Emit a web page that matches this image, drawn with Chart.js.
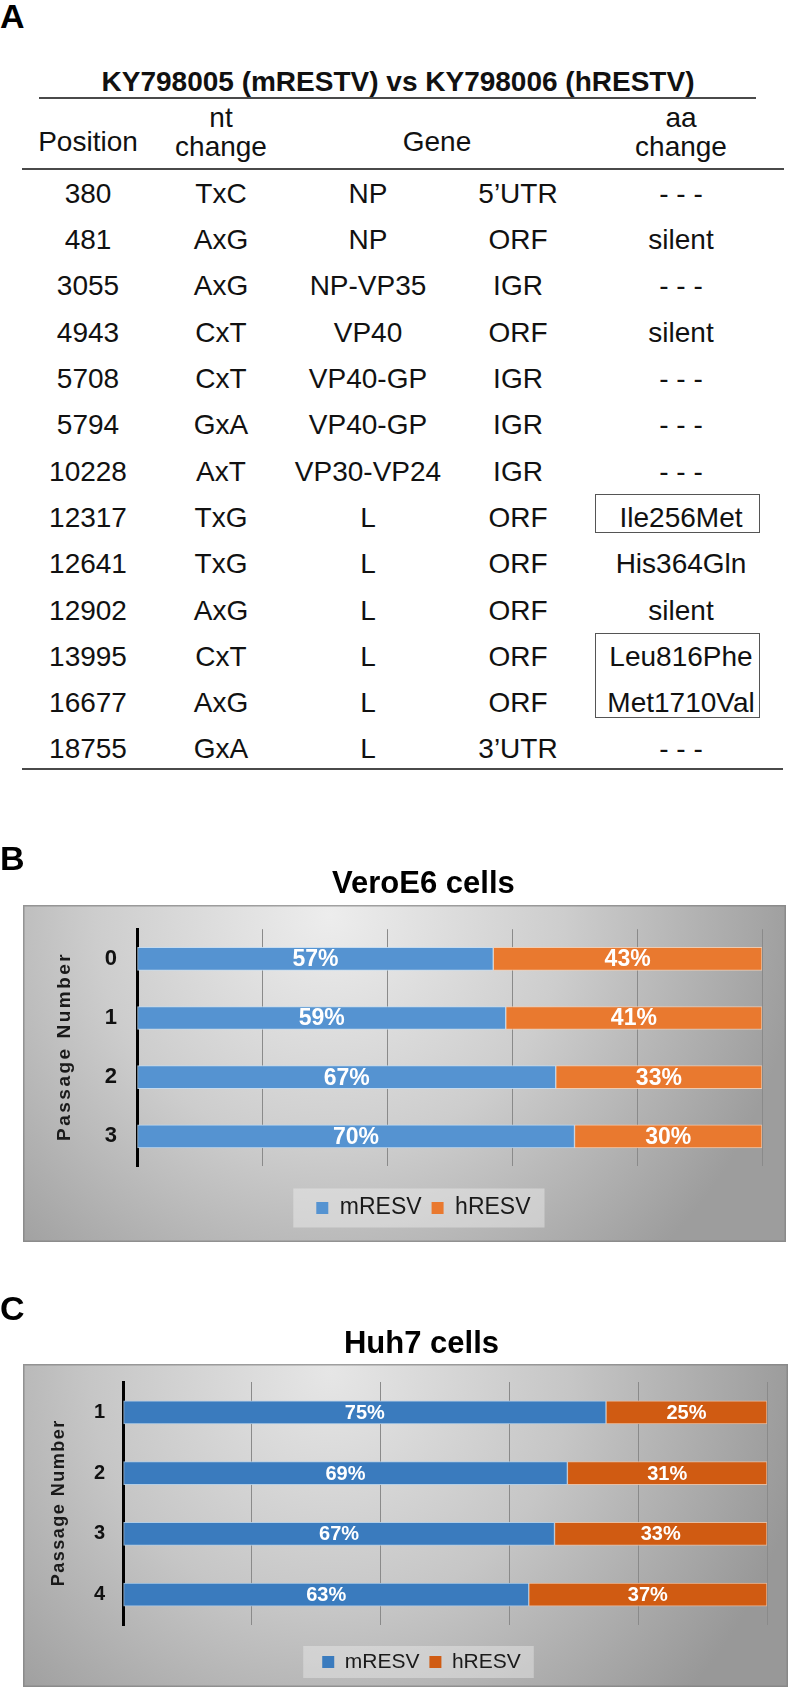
<!DOCTYPE html>
<html><head><meta charset="utf-8">
<script src="https://cdn.jsdelivr.net/npm/chart.js@4.4.1/dist/chart.umd.min.js"></script>
<style>
html,body{margin:0;padding:0;background:#fff;}
body{width:792px;height:1689px;position:relative;overflow:hidden;font-family:'Liberation Sans',Arial,Helvetica,sans-serif;color:#111;}
.t{position:absolute;white-space:nowrap;font-size:28px;line-height:29px;text-align:center;transform:translateX(-50%);}
.hl{position:absolute;height:2px;background:#4a4a4a;}
.panelLetter{position:absolute;font-weight:bold;font-size:34px;line-height:34px;left:0;z-index:5;color:#000;}
.box{position:absolute;border:1px solid #555;box-sizing:border-box;}
canvas{position:absolute;left:0;}
</style></head>
<body>
<div class="panelLetter" style="top:-1px">A</div>
<div class="panelLetter" style="top:841px">B</div>
<div class="panelLetter" style="top:1291px">C</div>
<div id="table"></div>
<canvas id="cB" width="792" height="386" style="top:860px"></canvas>
<canvas id="cC" width="792" height="367" style="top:1322px"></canvas>
<script>
// ---------- Table data (panel A) ----------
const tableTitle = 'KY798005 (mRESTV) vs KY798006 (hRESTV)';
const positions = ['380','481','3055','4943','5708','5794','10228','12317','12641','12902','13995','16677','18755'];
const ntChanges = ['TxC','AxG','AxG','CxT','CxT','GxA','AxT','TxG','TxG','AxG','CxT','AxG','GxA'];
const genes = ['NP','NP','NP-VP35','VP40','VP40-GP','VP40-GP','VP30-VP24','L','L','L','L','L','L'];
const regions = ['5\u2019UTR','ORF','IGR','ORF','IGR','IGR','IGR','ORF','ORF','ORF','ORF','ORF','3\u2019UTR'];
const aaChanges = ['- - -','silent','- - -','silent','- - -','- - -','- - -','Ile256Met','His364Gln','silent','Leu816Phe','Met1710Val','- - -'];

// ---------- Chart data (panels B, C) ----------
const passagesB = ['0','1','2','3'];
const mRESV_B = [57, 59, 67, 70];
const hRESV_B = [43, 41, 33, 30];
const passagesC = ['1','2','3','4'];
const mRESV_C = [75, 69, 67, 63];
const hRESV_C = [25, 31, 33, 37];
const seriesNames = ['mRESV', 'hRESV'];

// ---------- Build table ----------
const tbl = document.getElementById('table');
function addText(txt, cx, baseline, opts) {
  const d = document.createElement('div');
  d.className = 't';
  d.style.left = cx + 'px';
  d.style.top = (baseline - 24.2) + 'px';
  if (opts && opts.bold) d.style.fontWeight = 'bold';
  d.innerHTML = txt;
  tbl.appendChild(d);
}
function addLine(x1, x2, y) {
  const d = document.createElement('div');
  d.className = 'hl';
  d.style.left = x1 + 'px'; d.style.width = (x2 - x1) + 'px'; d.style.top = (y - 1) + 'px';
  tbl.appendChild(d);
}
function addBox(x, y, w, h) {
  const d = document.createElement('div');
  d.className = 'box';
  d.style.left = x + 'px'; d.style.top = y + 'px'; d.style.width = w + 'px'; d.style.height = h + 'px';
  tbl.appendChild(d);
}
addText(tableTitle, 398, 91, {bold: true});
addLine(39, 756, 98);
addText('Position', 88, 151);
addText('nt<br>change', 221, 127.2);
addText('Gene', 437, 151);
addText('aa<br>change', 681, 127.2);
addLine(22, 784, 169);
const cols = [88, 221, 368, 518, 681];
for (let i = 0; i < positions.length; i++) {
  const b = 203 + 46.3 * i;
  addText(positions[i], cols[0], b);
  addText(ntChanges[i], cols[1], b);
  addText(genes[i], cols[2], b);
  addText(regions[i], cols[3], b);
  addText(aaChanges[i], cols[4], b);
}
addLine(22, 783, 769);
addBox(595, 494, 165, 39);
addBox(595, 633, 165, 85);

// ---------- Chart plugins ----------
const FONT = "'Liberation Sans', Arial, Helvetica, sans-serif";
Chart.defaults.font.family = FONT;

const panelPlugin = {
  id: 'panel',
  beforeDraw(chart, args, o) {
    const ctx = chart.ctx;
    ctx.save();
    const g = ctx.createRadialGradient(o.cx, o.cy, 0, o.cx, o.cy, o.r);
    g.addColorStop(0, o.c0);
    g.addColorStop(0.5, o.cm);
    g.addColorStop(1, o.c1);
    ctx.fillStyle = g;
    ctx.fillRect(o.x, o.y, o.w, o.h);
    ctx.strokeStyle = 'rgba(130,130,130,0.7)';
    ctx.lineWidth = 1.5;
    ctx.strokeRect(o.x + 0.75, o.y + 0.75, o.w - 1.5, o.h - 1.5);
    const lg = chart.legend;
    if (lg && lg.legendHitBoxes && lg.legendHitBoxes.length) {
      const hb = lg.legendHitBoxes;
      const last = hb[hb.length - 1];
      const l = hb[0].left - o.lgPadL;
      const r = last.left + last.width + o.lgPadR;
      const cy = hb[0].top + hb[0].height / 2;
      ctx.fillStyle = o.lgBg;
      ctx.fillRect(l, cy - o.lgH / 2, r - l, o.lgH);
    }
    ctx.restore();
  }
};

const labelPlugin = {
  id: 'barLabels',
  afterDatasetsDraw(chart, args, o) {
    const ctx = chart.ctx;
    ctx.save();
    ctx.font = 'bold ' + o.size + 'px ' + FONT;
    ctx.fillStyle = o.color;
    ctx.textAlign = 'center';
    ctx.textBaseline = 'middle';
    chart.data.datasets.forEach((ds, di) => {
      const meta = chart.getDatasetMeta(di);
      meta.data.forEach((el, i) => {
        const p = el.getProps(['x', 'base', 'y'], true);
        ctx.fillText(ds.data[i] + '%', (p.x + p.base) / 2, p.y + 1);
      });
    });
    ctx.restore();
  }
};

const axisTitlePlugin = {
  id: 'axisTitle',
  afterDraw(chart, args, o) {
    const ctx = chart.ctx, ca = chart.chartArea;
    ctx.save();
    ctx.translate(o.x, (ca.top + ca.bottom) / 2);
    ctx.rotate(-Math.PI / 2);
    ctx.font = 'bold ' + o.size + 'px ' + FONT;
    if ('letterSpacing' in ctx) ctx.letterSpacing = o.spacing + 'px';
    ctx.fillStyle = '#1a1a1a';
    ctx.textAlign = 'center';
    ctx.textBaseline = 'middle';
    ctx.fillText(o.text, o.spacing / 2, 0);
    ctx.restore();
  }
};

function makeChart(id, cfg) {
  return new Chart(document.getElementById(id), {
    type: 'bar',
    data: {
      labels: cfg.labels,
      datasets: [
        { label: seriesNames[0], data: cfg.m, backgroundColor: cfg.blue, borderColor: cfg.blueEdge, borderWidth: 1, borderSkipped: false, barThickness: 23 },
        { label: seriesNames[1], data: cfg.h, backgroundColor: cfg.orange, borderColor: cfg.orangeEdge, borderWidth: 1, borderSkipped: false, barThickness: 23 }
      ]
    },
    options: {
      indexAxis: 'y',
      responsive: false,
      animation: false,
      devicePixelRatio: 1,
      layout: { padding: cfg.pad },
      scales: {
        x: {
          stacked: true, min: 0, max: 100,
          ticks: { display: false, stepSize: 20 },
          grid: { color: '#8a8a8a', lineWidth: 1, drawTicks: true, tickLength: cfg.tickLen, tickColor: 'rgba(0,0,0,0)' },
          border: { display: false }
        },
        y: {
          stacked: true,
          ticks: { color: '#111', font: { size: cfg.tickSize, weight: 'bold' }, padding: cfg.tickPad },
          grid: { display: false, drawTicks: false },
          border: { display: true, color: '#000', width: 3 }
        }
      },
      plugins: {
        title: { display: true, text: cfg.title, color: '#000', font: { size: 31, weight: 'bold' }, padding: cfg.titlePad },
        legend: {
          position: 'bottom',
          labels: {
            boxWidth: 12, boxHeight: 12, padding: 10, color: '#1a1a1a',
            font: { size: cfg.legendSize },
            generateLabels(chart) {
              const items = Chart.defaults.plugins.legend.labels.generateLabels(chart);
              items.forEach(it => { it.lineWidth = 0; it.strokeStyle = 'rgba(0,0,0,0)'; });
              return items;
            }
          }
        },
        tooltip: { enabled: false },
        panel: cfg.panel,
        barLabels: { size: cfg.labelSize, color: '#ffffff' },
        axisTitle: { text: 'Passage Number', x: cfg.axisTitleX, size: cfg.axisSize, spacing: cfg.axisSpacing }
      }
    },
    plugins: [panelPlugin, labelPlugin, axisTitlePlugin]
  });
}

makeChart('cB', {
  labels: passagesB, m: mRESV_B, h: hRESV_B,
  title: 'VeroE6 cells',
  blue: '#5593D1', blueEdge: 'rgba(195,220,242,0.9)',
  orange: '#E9792F', orangeEdge: 'rgba(246,205,175,0.9)',
  pad: { left: 84.8, right: 30, top: 0, bottom: 16.5 },
  tickLen: 20.5, tickSize: 22, tickPad: 20,
  titlePad: { top: 6, bottom: 26 },
  legendSize: 23, labelSize: 23,
  axisTitleX: 64.5, axisSize: 19, axisSpacing: 2.5,
  panel: { x: 23, y: 45, w: 763, h: 337, cx: 330, cy: 55, r: 470, c0: '#ededed', cm: '#cdcdcd', c1: '#9d9d9d',
           lgPadL: 23, lgPadR: 14, lgH: 39, lgBg: 'rgba(240,240,240,0.45)' }
});

makeChart('cC', {
  labels: passagesC, m: mRESV_C, h: hRESV_C,
  title: 'Huh7 cells',
  blue: '#3A7BBE', blueEdge: 'rgba(175,205,232,0.9)',
  orange: '#D05B12', orangeEdge: 'rgba(236,192,162,0.9)',
  pad: { left: 76, right: 25, top: 0, bottom: 6.5 },
  tickLen: 16.5, tickSize: 20, tickPad: 18,
  titlePad: { top: 3.5, bottom: 19.3 },
  legendSize: 21, labelSize: 20,
  axisTitleX: 59.5, axisSize: 18, axisSpacing: 1.5,
  panel: { x: 23, y: 42, w: 765, h: 323, cx: 330, cy: 50, r: 480, c0: '#e6e6e6', cm: '#c6c6c6', c1: '#989898',
           lgPadL: 19, lgPadR: 13, lgH: 32, lgBg: 'rgba(235,235,235,0.45)' }
});
</script>
</body></html>
